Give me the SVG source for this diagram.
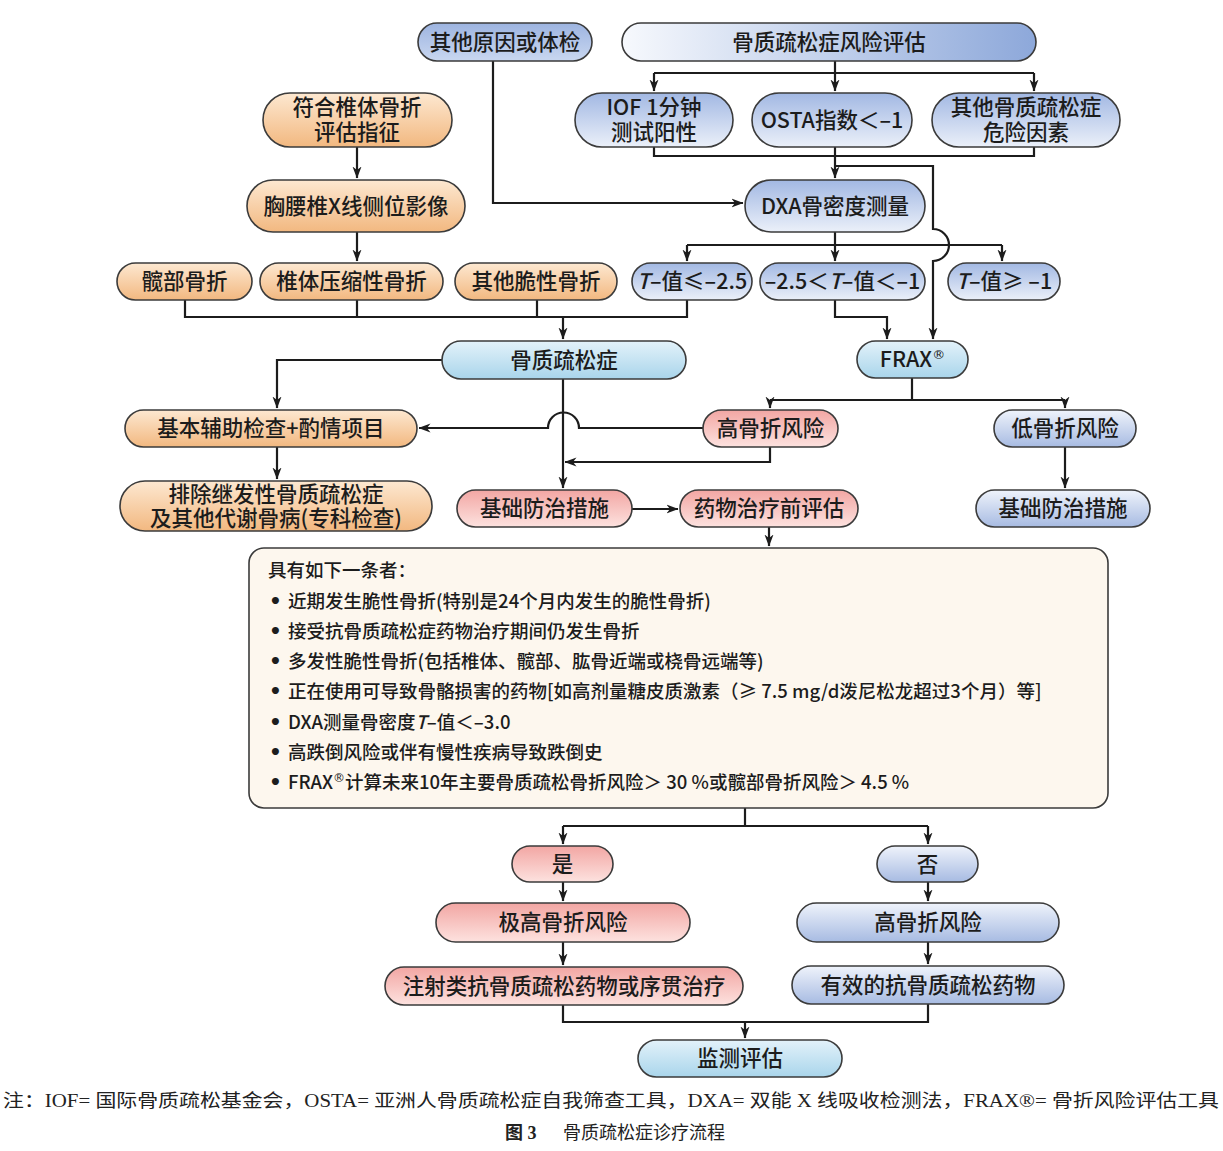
<svg xmlns="http://www.w3.org/2000/svg" width="1223" height="1151" viewBox="0 0 1223 1151">
<defs>
<linearGradient id="gOrange" x1="0" y1="0" x2="0" y2="1"><stop offset="0" stop-color="#fde8d1"/><stop offset="1" stop-color="#f2b880"/></linearGradient>
<linearGradient id="gBlueMid" x1="0" y1="0" x2="0" y2="1"><stop offset="0" stop-color="#9db4e0"/><stop offset="1" stop-color="#c9d7f0"/></linearGradient>
<linearGradient id="gRiskH" x1="0" y1="0" x2="1" y2="0"><stop offset="0" stop-color="#f7f9fd"/><stop offset="1" stop-color="#8da8da"/></linearGradient>
<linearGradient id="gBlueV" x1="0" y1="0" x2="0" y2="1"><stop offset="0" stop-color="#a2b8e3"/><stop offset="1" stop-color="#ebf0f9"/></linearGradient>
<linearGradient id="gBlueL" x1="0" y1="0" x2="0" y2="1"><stop offset="0" stop-color="#eff3fb"/><stop offset="1" stop-color="#a7bbe2"/></linearGradient>
<linearGradient id="gCyan" x1="0" y1="0" x2="0" y2="1"><stop offset="0" stop-color="#e3f2fa"/><stop offset="1" stop-color="#a9d5eb"/></linearGradient>
<linearGradient id="gRed" x1="0" y1="0" x2="0" y2="1"><stop offset="0" stop-color="#f2a6a3"/><stop offset="1" stop-color="#fde2df"/></linearGradient>
<marker id="ah" markerUnits="userSpaceOnUse" markerWidth="12" markerHeight="12" viewBox="0 0 12 12" refX="11.5" refY="6" orient="auto"><path d="M0,1.5 L12,6 L0,10.5 L3.5,6 z" fill="#1c1c1c"/></marker>
</defs>
<style>
.node rect{stroke:#3b3b3b;stroke-width:1.6}
.orange rect{fill:url(#gOrange)}
.bluemid rect{fill:url(#gBlueMid)}
.riskh rect{fill:url(#gRiskH)}
.bluev rect{fill:url(#gBlueV)}
.bluel rect{fill:url(#gBlueL)}
.cyan rect{fill:url(#gCyan)}
.red rect{fill:url(#gRed)}
.t{font-family:"Noto Sans CJK SC","Noto Sans",sans-serif;font-size:21.5px;font-weight:500;fill:#1c1c1c;text-anchor:middle}
.bt{font-family:"Noto Sans CJK SC","Noto Sans",sans-serif;font-size:18.5px;font-weight:500;fill:#1c1c1c}
.bul{font-family:"DejaVu Sans",sans-serif;font-size:20px;font-weight:bold}
.reg{font-family:"DejaVu Sans",sans-serif}
.it{font-style:italic}
.conn path{fill:none;stroke:#1c1c1c;stroke-width:2.2}
.conn path.a{marker-end:url(#ah)}
.cap{font-family:"Liberation Serif","Noto Sans CJK SC",serif;font-size:18px;fill:#222}
</style>
<rect width="1223" height="1151" fill="#ffffff"/>

<g class="conn" id="connectors">
<path class="a" d="M493,61 V203 H743"/>
<path d="M835,61 V73 M654,73 H1034"/>
<path class="a" d="M654,73 V91"/>
<path class="a" d="M835,73 V91"/>
<path class="a" d="M1034,73 V91"/>
<path d="M654,147 V156 H1034 V147"/>
<path class="a" d="M835,147 V178"/>
<path class="a" d="M835,166 H933 V229 A16,16 0 0 1 933,261 V339"/>
<path d="M835,232 V245 M687,245 H1002"/>
<path class="a" d="M687,245 V261"/>
<path class="a" d="M835,245 V261"/>
<path class="a" d="M1002,245 V261"/>
<path class="a" d="M357,147 V178"/>
<path class="a" d="M357,232 V261"/>
<path d="M185,300 V317 H687 V300 M357,300 V317 M537,300 V317"/>
<path class="a" d="M563,317 V339"/>
<path class="a" d="M835,300 V317 H887 V339"/>
<path d="M912,378 V400 M770,400 H1065"/>
<path class="a" d="M770,400 V408"/>
<path class="a" d="M1065,400 V408"/>
<path class="a" d="M442,360 H277 V408"/>
<path class="a" d="M277,447 V479"/>
<path class="a" d="M703,428 H579 A15.5,15.5 0 0 0 548,428 H419"/>
<path class="a" d="M563,379 V488"/>
<path class="a" d="M770,447 V462 H565"/>
<path class="a" d="M632,509 H678"/>
<path class="a" d="M1065,447 V488"/>
<path class="a" d="M769,527 V546"/>
<path d="M745,808 V826 M563,826 H928"/>
<path class="a" d="M563,826 V844"/>
<path class="a" d="M928,826 V844"/>
<path class="a" d="M563,882 V901"/>
<path class="a" d="M928,882 V901"/>
<path class="a" d="M563,942 V965"/>
<path class="a" d="M928,942 V964"/>
<path d="M563,1005 V1022 H928 V1004"/>
<path class="a" d="M745,1022 V1038"/>
</g>

<g id="n_other_cause" class="node bluemid"><rect x="418" y="23" width="174" height="38" rx="19"/><text class="t" x="505" y="50">其他原因或体检</text></g>
<g id="n_risk" class="node riskh"><rect x="622" y="23" width="414" height="38" rx="19"/><text class="t" x="829" y="50">骨质疏松症风险评估</text></g>
<g id="n_iof" class="node bluev"><rect x="575" y="93" width="158" height="54" rx="27"/><text class="t"><tspan x="654" y="115">IOF 1分钟</tspan><tspan x="654" y="140">测试阳性</tspan></text></g>
<g id="n_osta" class="node bluev"><rect x="752" y="93" width="160" height="54" rx="27"/><text class="t" x="832" y="128">OSTA指数＜–1</text></g>
<g id="n_other_risk" class="node bluev"><rect x="932" y="93" width="188" height="54" rx="27"/><text class="t"><tspan x="1026" y="115">其他骨质疏松症</tspan><tspan x="1026" y="140">危险因素</tspan></text></g>
<g id="n_vert_ind" class="node orange"><rect x="263" y="93" width="189" height="54" rx="27"/><text class="t"><tspan x="357" y="115">符合椎体骨折</tspan><tspan x="357" y="140">评估指征</tspan></text></g>
<g id="n_xray" class="node orange"><rect x="247" y="180" width="218" height="52" rx="26"/><text class="t" x="356" y="214">胸腰椎X线侧位影像</text></g>
<g id="n_dxa" class="node bluev"><rect x="745" y="180" width="180" height="52" rx="26"/><text class="t" x="835" y="214">DXA骨密度测量</text></g>
<g id="n_hip" class="node orange"><rect x="117" y="263" width="135" height="37" rx="18.5"/><text class="t" x="184.5" y="289">髋部骨折</text></g>
<g id="n_vcf" class="node orange"><rect x="260" y="263" width="183" height="37" rx="18.5"/><text class="t" x="351.5" y="289">椎体压缩性骨折</text></g>
<g id="n_fragile" class="node orange"><rect x="455" y="263" width="162" height="37" rx="18.5"/><text class="t" x="536" y="289">其他脆性骨折</text></g>
<g id="n_t1" class="node bluev"><rect x="632" y="263" width="120" height="37" rx="18.5"/><text class="t" x="692" y="289"><tspan class="it">T</tspan>–值≤–2.5</text></g>
<g id="n_t2" class="node bluev"><rect x="760" y="263" width="165" height="37" rx="18.5"/><text class="t" x="842.5" y="289">–2.5＜<tspan class="it">T</tspan>–值＜–1</text></g>
<g id="n_t3" class="node bluev"><rect x="948" y="263" width="112" height="37" rx="18.5"/><text class="t" x="1004" y="289"><tspan class="it">T</tspan>–值≥ –1</text></g>
<g id="n_op" class="node cyan"><rect x="442" y="341" width="244" height="38" rx="19"/><text class="t" x="564" y="368">骨质疏松症</text></g>
<g id="n_frax" class="node cyan"><rect x="857" y="341" width="111" height="37" rx="18.5"/><text class="t" x="912.5" y="367">FRAX<tspan class="reg" font-size="13" dy="-8">®</tspan></text></g>
<g id="n_basic_exam" class="node orange"><rect x="125" y="410" width="292" height="37" rx="18.5"/><text class="t" x="271" y="436">基本辅助检查+酌情项目</text></g>
<g id="n_high_risk" class="node red"><rect x="703" y="410" width="135" height="37" rx="18.5"/><text class="t" x="770.5" y="436">高骨折风险</text></g>
<g id="n_low_risk" class="node bluel"><rect x="994" y="410" width="142" height="37" rx="18.5"/><text class="t" x="1065" y="436">低骨折风险</text></g>
<g id="n_exclude" class="node orange"><rect x="120" y="481" width="312" height="50" rx="25"/><text class="t"><tspan x="276" y="502">排除继发性骨质疏松症</tspan><tspan x="276" y="526">及其他代谢骨病(专科检查)</tspan></text></g>
<g id="n_basic_prev" class="node red"><rect x="457" y="490" width="175" height="37" rx="18.5"/><text class="t" x="544.5" y="516">基础防治措施</text></g>
<g id="n_pre_eval" class="node red"><rect x="680" y="490" width="178" height="37" rx="18.5"/><text class="t" x="769" y="516">药物治疗前评估</text></g>
<g id="n_basic_prev2" class="node bluel"><rect x="976" y="490" width="174" height="37" rx="18.5"/><text class="t" x="1063" y="516">基础防治措施</text></g>

<g id="n_criteria" class="node"><rect x="249" y="548" width="859" height="260" rx="15" fill="#fdf7ee"/>
<text class="bt" x="268" y="577">具有如下一条者：</text>
<text class="bt" y="608"><tspan class="bul" x="269">•</tspan><tspan x="288">近期发生脆性骨折(特别是24个月内发生的脆性骨折)</tspan></text>
<text class="bt" y="638"><tspan class="bul" x="269">•</tspan><tspan x="288">接受抗骨质疏松症药物治疗期间仍发生骨折</tspan></text>
<text class="bt" y="668"><tspan class="bul" x="269">•</tspan><tspan x="288">多发性脆性骨折(包括椎体、髋部、肱骨近端或桡骨远端等)</tspan></text>
<text class="bt" y="698"><tspan class="bul" x="269">•</tspan><tspan x="288">正在使用可导致骨骼损害的药物[如高剂量糖皮质激素（≥ 7.5 mg/d泼尼松龙超过3个月）等]</tspan></text>
<text class="bt" y="729"><tspan class="bul" x="269">•</tspan><tspan x="288">DXA测量骨密度<tspan class="it">T</tspan>–值＜–3.0</tspan></text>
<text class="bt" y="759"><tspan class="bul" x="269">•</tspan><tspan x="288">高跌倒风险或伴有慢性疾病导致跌倒史</tspan></text>
<text class="bt" y="789"><tspan class="bul" x="269">•</tspan><tspan x="288">FRAX<tspan class="reg" font-size="12" dy="-7">®</tspan><tspan dy="7">计算未来10年主要骨质疏松骨折风险＞ 30 %或髋部骨折风险＞ 4.5 %</tspan></tspan></text>
</g>

<g id="n_yes" class="node red"><rect x="512" y="846" width="101" height="36" rx="18"/><text class="t" x="562.5" y="872">是</text></g>
<g id="n_no" class="node bluel"><rect x="877" y="846" width="101" height="36" rx="18"/><text class="t" x="927.5" y="872">否</text></g>
<g id="n_vhigh" class="node red"><rect x="436" y="903" width="254" height="39" rx="19.5"/><text class="t" x="563" y="930">极高骨折风险</text></g>
<g id="n_high2" class="node bluel"><rect x="797" y="903" width="262" height="39" rx="19.5"/><text class="t" x="928" y="930">高骨折风险</text></g>
<g id="n_inject" class="node red"><rect x="385" y="967" width="358" height="38" rx="19"/><text class="t" x="564" y="994">注射类抗骨质疏松药物或序贯治疗</text></g>
<g id="n_effective" class="node bluel"><rect x="792" y="966" width="272" height="38" rx="19"/><text class="t" x="928" y="993">有效的抗骨质疏松药物</text></g>
<g id="n_monitor" class="node cyan"><rect x="638" y="1040" width="204" height="37" rx="18.5"/><text class="t" x="740" y="1066">监测评估</text></g>

<text class="cap" x="3" y="1107" textLength="1216" lengthAdjust="spacingAndGlyphs">注：IOF= 国际骨质疏松基金会，OSTA= 亚洲人骨质疏松症自我筛查工具，DXA= 双能 X 线吸收检测法，FRAX®= 骨折风险评估工具</text>
<text class="cap" y="1139" font-size="19"><tspan x="505" font-weight="bold">图 3</tspan><tspan x="563">骨质疏松症诊疗流程</tspan></text>
</svg>
